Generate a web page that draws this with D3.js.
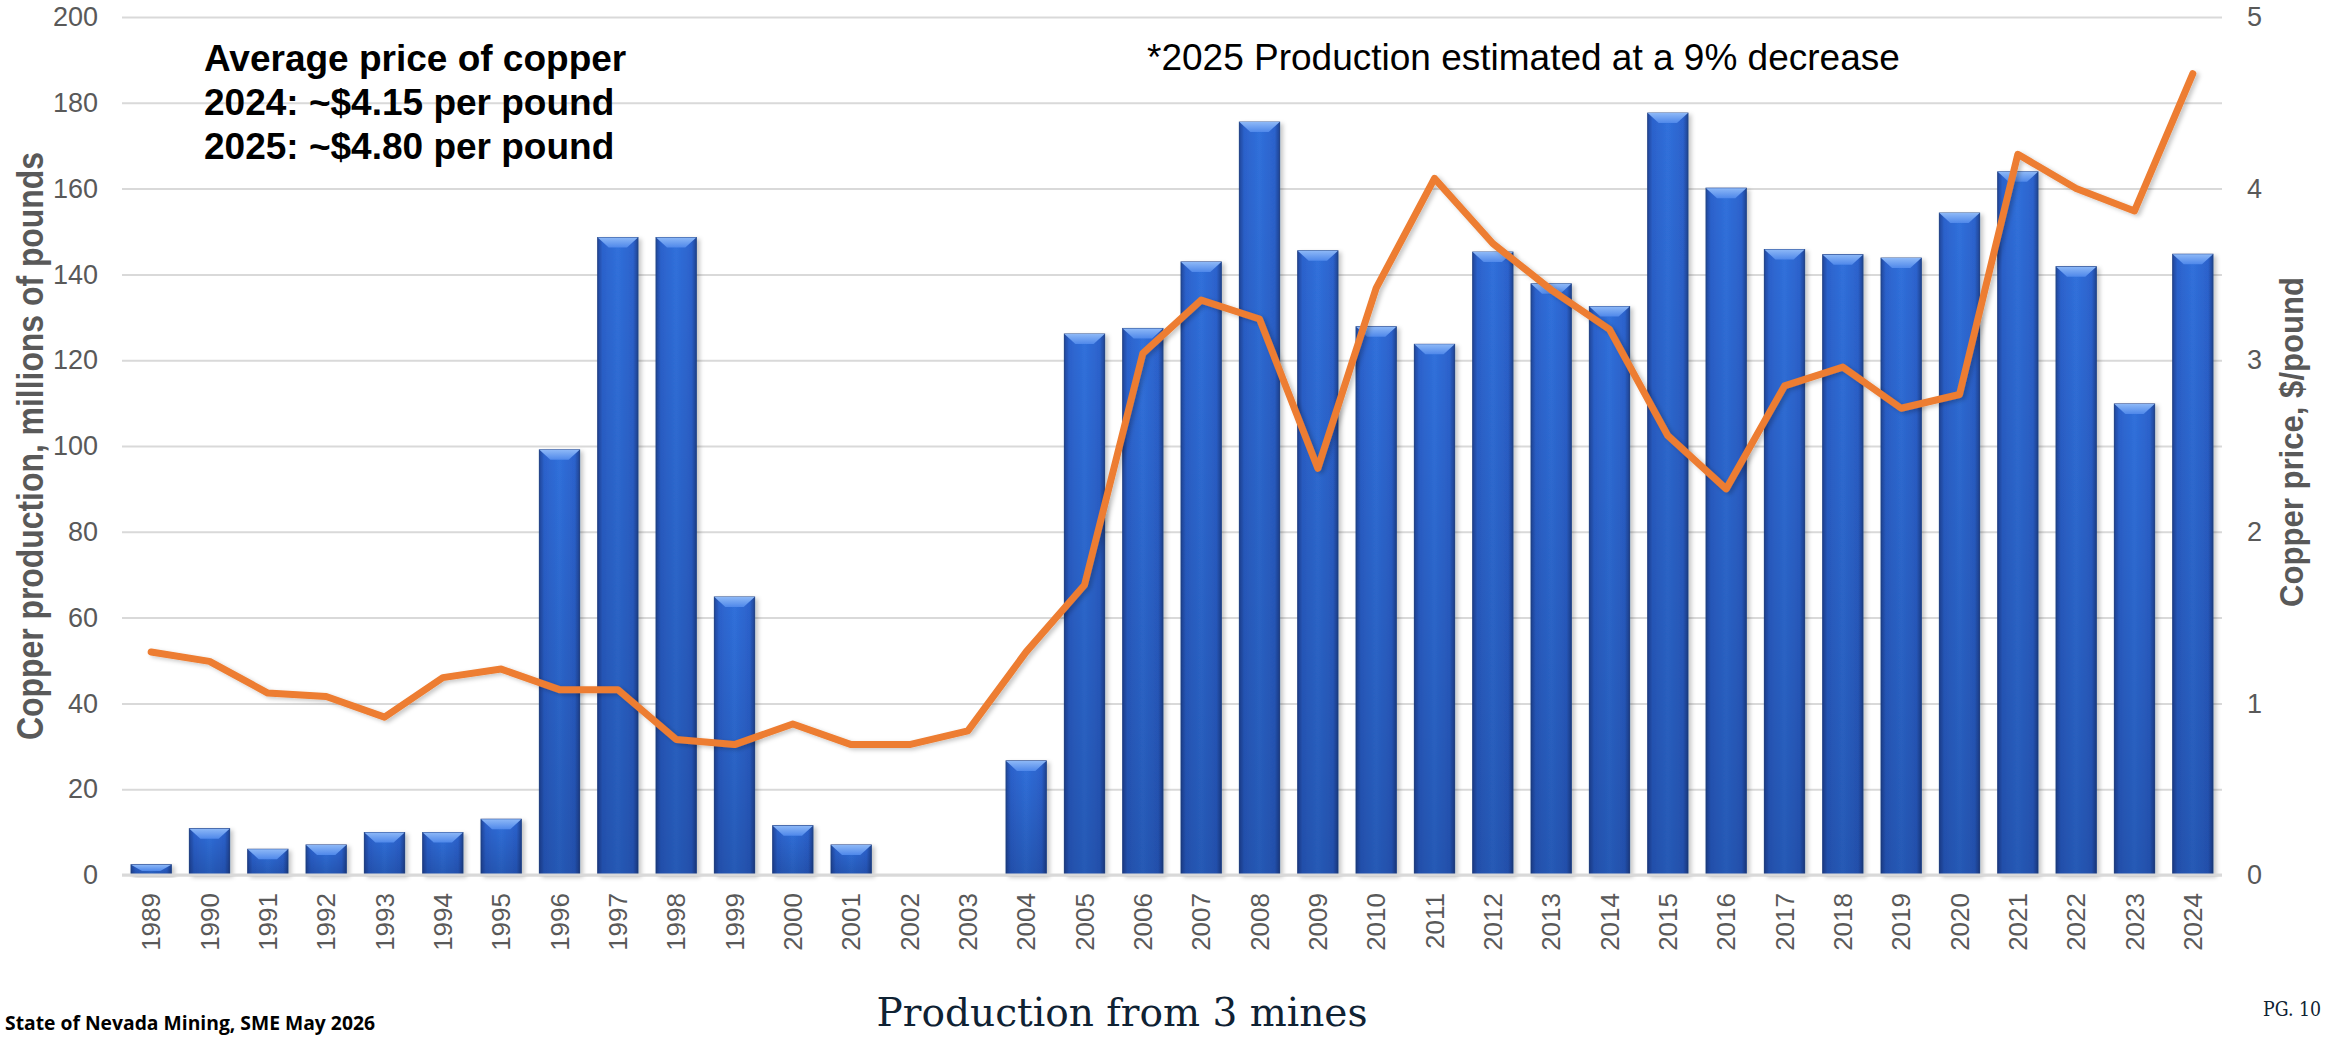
<!DOCTYPE html>
<html>
<head>
<meta charset="utf-8">
<script src="https://cdn.jsdelivr.net/npm/d3@7"></script>
<style>
  html, body { margin: 0; padding: 0; background: #ffffff; }
  svg { display: block; }
</style>
</head>
<body>
<div id="chart"></div>
<script>
// Nevada copper production (bars, left axis) and average copper price (line, right axis)
const years = ["1989","1990","1991","1992","1993","1994","1995","1996","1997","1998",
  "1999","2000","2001","2002","2003","2004","2005","2006","2007","2008","2009","2010",
  "2011","2012","2013","2014","2015","2016","2017","2018","2019","2020","2021","2022",
  "2023","2024"];

// millions of pounds
const production = [2.4, 10.8, 6.0, 7.0, 9.9, 9.9, 13.0, 99.1, 148.6, 148.6,
  64.8, 11.5, 7.0, 0, 0, 26.6, 126.1, 127.4, 142.9, 175.5, 145.5, 127.8,
  123.7, 145.2, 137.8, 132.5, 177.6, 160.1, 145.8, 144.6, 143.8, 154.3, 163.9, 141.8,
  109.8, 144.7];

// $/pound
const price = [1.30, 1.245, 1.06, 1.04, 0.92, 1.15, 1.20, 1.08, 1.08, 0.79,
  0.76, 0.88, 0.76, 0.76, 0.84, 1.30, 1.69, 3.04, 3.35, 3.24, 2.37, 3.42,
  4.06, 3.68, 3.41, 3.18, 2.56, 2.25, 2.85, 2.96, 2.72, 2.80, 4.20, 4.00,
  3.87, 4.67];

const leftTicks = [0, 20, 40, 60, 80, 100, 120, 140, 160, 180, 200];
const rightTicks = [0, 1, 2, 3, 4, 5];

const priceNotes = ["Average price of copper", "2024: ~$4.15 per pound", "2025: ~$4.80 per pound"];
const estimateNote = "*2025 Production estimated at a 9% decrease";
const leftTitle = "Copper production, millions of pounds";
const rightTitle = "Copper price, $/pound";
const footerTitle = "Production from 3 mines";
const sourceNote = "State of Nevada Mining, SME May 2026";
const pageNote = "PG. 10";

const SANS = "'Liberation Sans', Arial, sans-serif";
const SERIF = "'Roboto Slab', 'DejaVu Serif', serif";

const W = 2336, H = 1037;
const plot = { left: 122, right: 2222, top: 17, bottom: 875 };

const svg = d3.select("#chart").append("svg")
  .attr("width", W).attr("height", H)
  .attr("viewBox", `0 0 ${W} ${H}`)
  .attr("font-family", SANS);

const defs = svg.append("defs");

// bar body: darker side edges, brighter middle
const gH = defs.append("linearGradient").attr("id", "barH")
  .attr("x1", "0").attr("x2", "1").attr("y1", "0").attr("y2", "0");
[[0, "#21479c"], [0.12, "#2c62cc"], [0.5, "#3070db"], [0.88, "#2c62cc"], [1, "#1f4493"]]
  .forEach(([o, c]) => gH.append("stop").attr("offset", o).attr("stop-color", c));

// bar body: darkening toward the base
const gV = defs.append("linearGradient").attr("id", "barV")
  .attr("x1", "0").attr("x2", "0").attr("y1", "0").attr("y2", "1");
gV.append("stop").attr("offset", 0).attr("stop-color", "#000a30").attr("stop-opacity", 0);
gV.append("stop").attr("offset", 1).attr("stop-color", "#000a30").attr("stop-opacity", 0.22);

// bevel cap
const gT = defs.append("linearGradient").attr("id", "barTop")
  .attr("x1", "0").attr("x2", "0").attr("y1", "0").attr("y2", "1");
gT.append("stop").attr("offset", 0).attr("stop-color", "#8db8f7");
gT.append("stop").attr("offset", 1).attr("stop-color", "#4f88ea");

const shadow = defs.append("filter").attr("id", "shadow")
  .attr("x", "-10%").attr("y", "-10%").attr("width", "130%").attr("height", "130%");
shadow.append("feDropShadow").attr("dx", 3).attr("dy", 2).attr("stdDeviation", 2)
  .attr("flood-color", "#000").attr("flood-opacity", 0.22);

const x = d3.scaleBand().domain(years)
  .range([plot.left, plot.right])
  .paddingInner(0.31).paddingOuter(0.155);

const yL = d3.scaleLinear().domain([0, 200]).range([plot.bottom, plot.top]);
const yR = d3.scaleLinear().domain([0, 5]).range([plot.bottom, plot.top]);

// horizontal gridlines
svg.append("g")
  .attr("transform", `translate(${plot.left},0)`)
  .call(d3.axisLeft(yL).tickValues(leftTicks).tickSize(-(plot.right - plot.left)).tickFormat(""))
  .call(g => g.select(".domain").remove())
  .call(g => g.selectAll("line").attr("stroke", "#d9d9d9").attr("stroke-width", 2));

// left tick labels
svg.append("g")
  .attr("transform", `translate(${plot.left},0)`)
  .call(d3.axisLeft(yL).tickValues(leftTicks).tickSize(0).tickPadding(24).tickFormat(d3.format("d")))
  .call(g => g.select(".domain").remove())
  .call(g => g.selectAll("text")
    .attr("fill", "#595959").attr("font-size", 27).attr("font-family", SANS));

// right tick labels
svg.append("g")
  .attr("transform", `translate(${plot.right},0)`)
  .call(d3.axisRight(yR).tickValues(rightTicks).tickSize(0).tickPadding(25).tickFormat(d3.format("d")))
  .call(g => g.select(".domain").remove())
  .call(g => g.selectAll("text")
    .attr("fill", "#595959").attr("font-size", 27).attr("font-family", SANS));

// bars
const bars = svg.append("g").selectAll("g.bar")
  .data(years.map((yr, i) => ({ yr, v: production[i] })).filter(d => d.v > 0))
  .join("g").attr("class", "bar");

bars.append("rect")
  .attr("x", d => x(d.yr)).attr("y", d => yL(d.v))
  .attr("width", x.bandwidth()).attr("height", d => yL(0) - yL(d.v))
  .attr("fill", "url(#barH)")
  .attr("stroke", "#1d3f86").attr("stroke-width", 1)
  .attr("filter", "url(#shadow)");

bars.append("rect")
  .attr("x", d => x(d.yr)).attr("y", d => yL(d.v))
  .attr("width", x.bandwidth()).attr("height", d => yL(0) - yL(d.v))
  .attr("fill", "url(#barV)");

bars.append("path")
  .attr("d", d => {
    const x0 = x(d.yr), x1 = x0 + x.bandwidth(), t = yL(d.v);
    const h = Math.min(10, (yL(0) - t) * 0.6), inset = Math.min(11, x.bandwidth() / 3);
    return `M${x0},${t}L${x1},${t}L${x1 - inset},${t + h}L${x0 + inset},${t + h}Z`;
  })
  .attr("fill", "url(#barTop)");

// zero baseline
svg.append("line")
  .attr("x1", plot.left).attr("x2", plot.right)
  .attr("y1", yL(0)).attr("y2", yL(0))
  .attr("stroke", "#d9d9d9").attr("stroke-width", 3);

// x tick labels (rotated)
svg.append("g")
  .attr("transform", `translate(0,${plot.bottom})`)
  .call(d3.axisBottom(x).tickSize(0).tickPadding(0))
  .call(g => g.select(".domain").remove())
  .call(g => g.selectAll("text")
    .attr("fill", "#595959").attr("font-size", 26).attr("font-family", SANS)
    .attr("text-anchor", "end")
    .attr("transform", "rotate(-90)")
    .attr("x", -18).attr("y", 0).attr("dy", "0.35em"));

// price line
const line = d3.line()
  .x((d, i) => x(years[i]) + x.bandwidth() / 2)
  .y(d => yR(d));

svg.append("path")
  .datum(price)
  .attr("d", line)
  .attr("fill", "none")
  .attr("stroke", "#ed7d31")
  .attr("stroke-width", 7)
  .attr("stroke-linejoin", "round")
  .attr("stroke-linecap", "round")
  .attr("filter", "url(#shadow)");

// axis titles
svg.append("text")
  .attr("transform", `translate(43,446) rotate(-90)`)
  .attr("text-anchor", "middle")
  .attr("font-weight", "bold").attr("font-size", 36)
  .attr("fill", "#595959")
  .attr("textLength", 588).attr("lengthAdjust", "spacingAndGlyphs")
  .text(leftTitle);

svg.append("text")
  .attr("transform", `translate(2303,442) rotate(-90)`)
  .attr("text-anchor", "middle")
  .attr("font-weight", "bold").attr("font-size", 34)
  .attr("fill", "#595959")
  .attr("textLength", 330).attr("lengthAdjust", "spacingAndGlyphs")
  .text(rightTitle);

// price notes
svg.append("g").selectAll("text")
  .data(priceNotes).join("text")
  .attr("x", 204).attr("y", (d, i) => 71 + i * 44)
  .attr("font-weight", "bold").attr("font-size", 37)
  .attr("fill", "#000")
  .text(d => d);

svg.append("text")
  .attr("x", 1147).attr("y", 70)
  .attr("font-size", 37).attr("fill", "#000")
  .text(estimateNote);

// footer
svg.append("text")
  .attr("x", 1122).attr("y", 1026)
  .attr("text-anchor", "middle")
  .attr("font-family", SERIF)
  .attr("font-size", 40).attr("fill", "#0f2233")
  .attr("textLength", 491).attr("lengthAdjust", "spacingAndGlyphs")
  .text(footerTitle);

svg.append("text")
  .attr("x", 5).attr("y", 1030)
  .attr("font-weight", "bold").attr("font-size", 19).attr("fill", "#000")
  .attr("font-family", "'Open Sans', 'Liberation Sans', sans-serif")
  .attr("textLength", 370).attr("lengthAdjust", "spacingAndGlyphs")
  .text(sourceNote);

svg.append("text")
  .attr("x", 2263).attr("y", 1016)
  .attr("font-family", SERIF)
  .attr("font-size", 21).attr("fill", "#0f2233")
  .attr("textLength", 58).attr("lengthAdjust", "spacingAndGlyphs")
  .text(pageNote);
</script>
</body>
</html>
